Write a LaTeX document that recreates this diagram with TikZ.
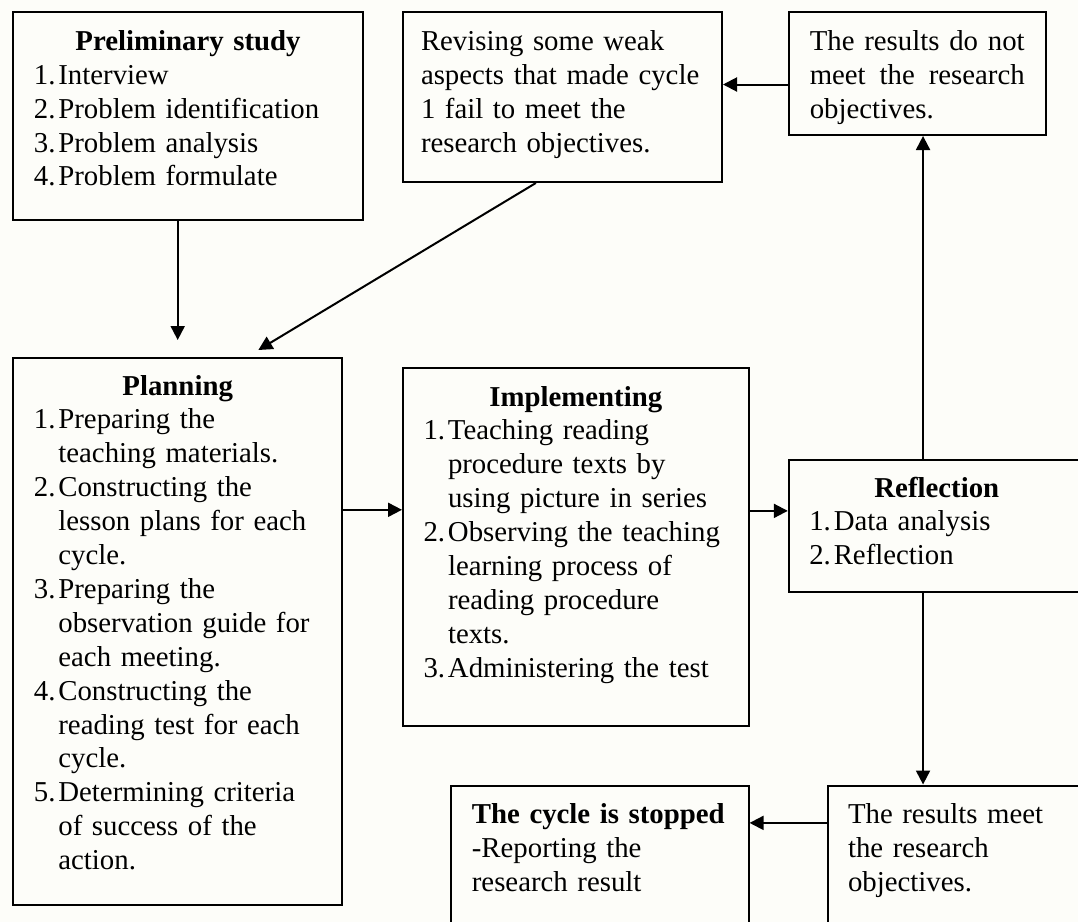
\documentclass[tikz,border=0pt]{standalone}
\usepackage{fontspec}
\setmainfont{Liberation Serif}
\usetikzlibrary{arrows.meta,calc,positioning}

\definecolor{paper}{RGB}{253,253,249}
\hyphenpenalty=10000
\exhyphenpenalty=10000
% numbered line with hanging indent
\newcommand{\litem}[2]{\hangindent=12.25pt\hangafter=1\noindent\makebox[12.25pt][l]{#1}#2\par}

\begin{document}
\begin{tikzpicture}[x=0.5pt, y=-0.5pt, >={Triangle[length=7pt,width=7pt]}, line width=1pt]
\newcommand{\flowbox}[1][]{\node [draw, anchor=north west, align=left, inner xsep=10.25pt, inner ysep=0pt, text height=19pt, font=\fontsize{14.4pt}{16.95pt}\selectfont, #1]}
\useasboundingbox (0,0) rectangle (1078,922);
\clip (0,0) rectangle (1078,922);
\fill [paper] (0,0) rectangle (1078,922);

\flowbox [at={(12.4,11.3)}, text width=154.1pt, text depth=85pt] (pre) {
  {\centering\textbf{Preliminary study}\par}
  \litem{1.}{Interview}
  \litem{2.}{Problem identification}
  \litem{3.}{Problem analysis}
  \litem{4.}{Problem formulate}};
\flowbox [at={(402,11.3)}, inner xsep=9pt, text width=141.5pt, text depth=65.85pt] (rev) {
  Revising some weak\newline aspects that made cycle\newline 1 fail to meet the\newline research objectives.};
\flowbox [at={(788,11.3)}, align=justify, inner xsep=10.375pt, text width=107.5pt, text depth=42.35pt] (nmeet) {
  \noindent The results do not\linebreak meet the research\linebreak objectives.};

\flowbox [at={(12.4,357)}, text width=143.8pt, text height=18.5pt, text depth=255pt] (plan) {
  {\centering\textbf{Planning}\par}
  \litem{1.}{Preparing the\newline teaching materials.}
  \litem{2.}{Constructing the\newline lesson plans for each\newline cycle.}
  \litem{3.}{Preparing the\newline observation guide for\newline each meeting.}
  \litem{4.}{Constructing the\newline reading test for each\newline cycle.}
  \litem{5.}{Determining criteria\newline of success of the\newline action.}};
\flowbox [at={(402,366.8)}, text width=152.3pt, text height=19.1pt, text depth=160pt] (impl) {
  {\centering\textbf{Implementing}\par}
  \litem{1.}{Teaching reading\newline procedure texts by\newline using picture in series}
  \litem{2.}{Observing the teaching\newline learning process of\newline reading procedure\newline texts.}
  \litem{3.}{Administering the test}};
\flowbox [at={(787.8,459)}, text width=127.5pt, text height=18.5pt, text depth=47.3pt] (refl) {
  {\centering\textbf{Reflection}\par}
  \litem{1.}{Data analysis}
  \litem{2.}{Reflection}};

\flowbox [at={(450.4,784.5)}, text width=128.1pt, text depth=90pt] (stop) {
  \textbf{The cycle is stopped}\newline -Reporting the\newline research result};
\flowbox [at={(826.5,784.5)}, text width=130pt, text depth=90pt] (meet) {
  The results meet\newline the research\newline objectives.};

\draw [->] (pre.south -| plan.north) -- ([yshift=8.5pt]plan.north);
\coordinate (revout) at ($(rev.south west)!.417!(rev.south east)$);
\coordinate (planin) at ($(plan.north west)!.744!(plan.north east)+(0,-7)$);
\draw [->] (revout) -- (planin);

\coordinate (back) at ($(nmeet.north west)!.587!(nmeet.south west)$);
\draw [->] (back) -- (back -| rev.east);

\coordinate (up) at ([xshift=2.9pt]nmeet.south);
\draw [->] (refl.north -| up) -- (up);
\draw [->] (refl.south -| up) -- (meet.north -| up);

\coordinate (go) at ($(impl.north west)!.397!(impl.south west)$);
\draw [->] (go -| plan.east) -- (go);
\coordinate (go2) at ($(impl.north east)!.4!(impl.south east)$);
\draw [->] (go2) -- (go2 -| refl.west);

\coordinate (done) at ([yshift=-19.2pt]meet.north west);
\draw [->] (done) -- (done -| stop.east);
\end{tikzpicture}
\end{document}
